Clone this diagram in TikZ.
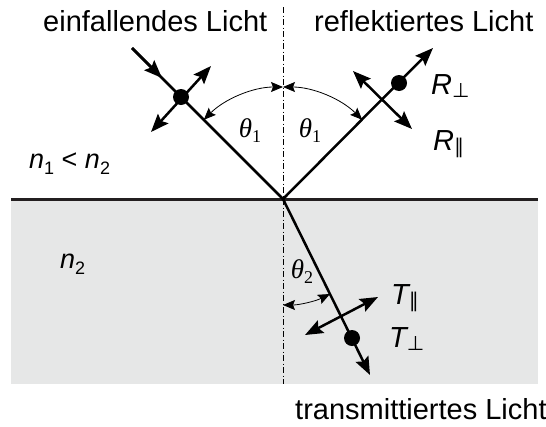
\documentclass[tikz,border=0pt]{standalone}
\usepackage{fontspec}
\setmainfont{Liberation Sans}
\newfontfamily\symfnt{DejaVu Sans}
\newfontfamily\serfnt{Liberation Serif}
\usetikzlibrary{arrows.meta}
\definecolor{mediumgray}{RGB}{230,231,231}
\definecolor{surfline}{RGB}{35,31,32}
\tikzset{
  ray/.style={line width=2.5pt, line cap=butt},
  bigtip/.style={-{Stealth[length=18pt,width=14pt,inset=3pt]}},
  bothtip/.style={{Stealth[length=18pt,width=14pt,inset=3pt]}-{Stealth[length=18pt,width=14pt,inset=3pt]}},
  arcline/.style={line width=0.8pt, {Stealth[length=12pt,width=10pt,inset=2pt]}-{Stealth[length=12pt,width=10pt,inset=2pt]}},
  dotnode/.style={circle, fill=black, inner sep=0pt, minimum size=16pt},
  txt/.style={inner sep=0pt, anchor=base west, font=\fontsize{29}{29}\selectfont},
  lbl/.style={inner sep=0pt, anchor=base west, font=\fontsize{29}{29}\selectfont\itshape},
  thlbl/.style={inner sep=0pt, font=\fontsize{27}{27}\selectfont}
}
\newcommand{\subsym}[1]{\raisebox{-3pt}{\fontsize{20}{20}\selectfont\upshape\symfnt #1}}
\newcommand{\subnum}[1]{\raisebox{-6pt}{\fontsize{18}{18}\selectfont\upshape #1}}
\newcommand{\thetalbl}[1]{{\serfnt\itshape θ}\raisebox{-5pt}{\serfnt\fontsize{18}{18}\selectfont #1}}
\begin{document}
\begin{tikzpicture}[x=1pt,y=-1pt]
\useasboundingbox (0,0) rectangle (546,426);
% medium
\fill[mediumgray] (11,199) rectangle (538,384);
\coordinate (SL) at (11,199);
\coordinate (SR) at (538,199);
\draw[surfline, line width=3pt] (SL) -- (SR);
% normal
\coordinate (NT) at (283,7);
\coordinate (NB) at (283,384);
\draw[line width=0.8pt, dash pattern=on 6pt off 2.5pt on 1pt off 2.5pt] (NT) -- (NB);
% points
\coordinate (O) at (283,199);
\coordinate (A) at (132,48);
\coordinate (Atip) at (162,78);
\coordinate (R) at (433,48);
\coordinate (T) at (370,375);
% incident
\draw[ray] (A) -- (O);
\draw[ray, bigtip] (A) -- (Atip);
\node[dotnode] (d1) at (181,97) {};
\coordinate (p1a) at (211,66);
\coordinate (p1b) at (151,132);
\draw[ray, bothtip] (p1b) -- (p1a);
% reflected
\draw[ray, bigtip] (O) -- (R);
\node[dotnode] (d2) at (399,83) {};
\coordinate (p2a) at (353,71);
\coordinate (p2b) at (412,129);
\draw[ray, bothtip] (p2a) -- (p2b);
% transmitted
\draw[ray, bigtip] (O) -- (T);
\node[dotnode] (d3) at (352,338) {};
\coordinate (p3a) at (378,297);
\coordinate (p3b) at (305,335);
\draw[ray, bothtip] (p3b) -- (p3a);
% angle arcs
\draw[arcline] (O) ++(225:112) arc[start angle=225, end angle=270, radius=112];
\draw[arcline] (O) ++(270:112) arc[start angle=270, end angle=315, radius=112];
\draw[arcline] (O) ++(90:106) arc[start angle=90, end angle=63.7, radius=106];
% angle labels
\node[thlbl] (th1a) at (250,131) {\thetalbl{1}};
\node[thlbl] (th1b) at (310,131) {\thetalbl{1}};
\node[thlbl] (th2) at (302,272) {\thetalbl{2}};
% texts
\node[txt] (tin) at (43,31) {einfallendes Licht};
\node[txt] (tref) at (314,31) {reflektiertes Licht};
\node[txt] (ttr) at (295,419) {transmittiertes Licht};
\node[lbl] (rs) at (431,94) {R\subsym{⊥}};
\node[lbl] (rp) at (433,150) {R\subsym{∥}};
\node[lbl] (tp) at (391,304) {T\subsym{∥}};
\node[lbl] (ts) at (389,347) {T\subsym{⊥}};
\node[lbl, font=\fontsize{27}{27}\selectfont\itshape] (n12) at (29,168) {n\subnum{1} {\upshape <} n\subnum{2}};
\node[lbl, font=\fontsize{27}{27}\selectfont\itshape] (n2) at (60,268) {n\subnum{2}};
\end{tikzpicture}
\end{document}
